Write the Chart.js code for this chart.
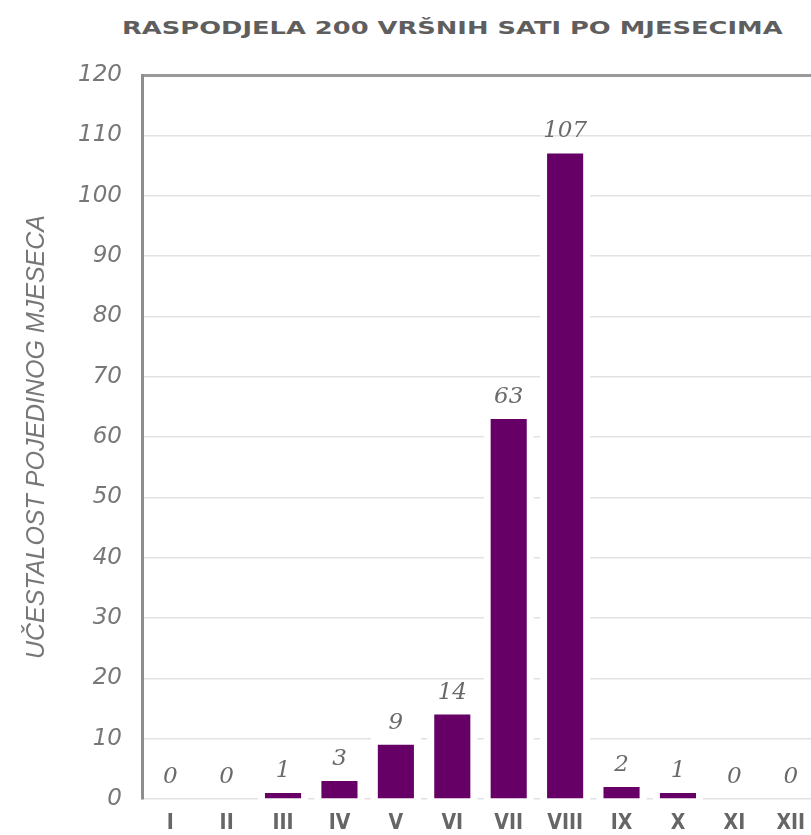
<!DOCTYPE html>
<html>
<head>
<meta charset="utf-8">
<script src="https://cdn.jsdelivr.net/npm/chart.js@4.4.0/dist/chart.umd.min.js"></script>
<style>
    html, body { margin: 0; padding: 0; background: #fff; overflow: hidden; }
    #naslov {
        position: absolute; left: 122px; top: 17px; width: 470px; text-align: left;
        font-family: 'DejaVu Sans', sans-serif; font-weight: bold; font-size: 18px;
        color: #5e5e5e; white-space: nowrap;
        transform-origin: 0 0; transform: scaleX(1.43);
    }
    #wrap { position: absolute; left: 0; top: 0; width: 819px; height: 835px; }
</style>
</head>
<body>
<div id="naslov">RASPODJELA 200 VRŠNIH SATI PO MJESECIMA</div>
<div id="wrap"><canvas id="mjeseciChart"></canvas></div>
<script>
// mjeseci (rimski brojevi) i broj vršnih sati u svakom
const mjeseci = ['I', 'II', 'III', 'IV', 'V', 'VI', 'VII', 'VIII', 'IX', 'X', 'XI', 'XII'];
const ucestalost = [0, 0, 1, 3, 9, 14, 63, 107, 2, 1, 0, 0];
const yMin = 0;
const yMax = 120;
const yKorak = 10;

document.addEventListener('DOMContentLoaded', function() {
    // bijeli "oreol" oko stupaca (prekida linije mreže)
    const oreolPlugin = {
        id: 'oreol',
        beforeDatasetsDraw(chart) {
            const ctx = chart.ctx;
            const meta = chart.getDatasetMeta(0);
            ctx.save();
            ctx.fillStyle = '#ffffff';
            meta.data.forEach((bar, i) => {
                if (ucestalost[i] <= 0) return;
                const p = bar.getProps(['x', 'y', 'base', 'width'], true);
                ctx.fillRect(p.x - p.width / 2 - 7, p.y - 7, p.width + 14, p.base - p.y + 9);
            });
            ctx.restore();
        }
    };

    // vrijednosti iznad stupaca
    const oznakePlugin = {
        id: 'oznake',
        afterDatasetsDraw(chart) {
            const ctx = chart.ctx;
            const meta = chart.getDatasetMeta(0);
            ctx.save();
            ctx.font = 'italic 23px "DejaVu Serif", serif';
            ctx.fillStyle = '#6a6a6a';
            ctx.textAlign = 'center';
            ctx.textBaseline = 'middle';
            meta.data.forEach((bar, i) => {
                const p = bar.getProps(['x', 'y'], true);
                ctx.fillText(String(ucestalost[i]), p.x, p.y - 22);
            });
            ctx.restore();
        }
    };

    const ctx = document.getElementById('mjeseciChart');
    new Chart(ctx.getContext('2d'), {
        type: 'bar',
        data: {
            labels: mjeseci,
            datasets: [{
                label: 'Učestalost',
                data: ucestalost,
                backgroundColor: '#660066',
                borderWidth: 0,
                barPercentage: 0.64,
                categoryPercentage: 1.0
            }]
        },
        options: {
            responsive: true,
            maintainAspectRatio: false,
            animation: false,
            layout: { padding: { top: 75, left: 0, right: 0, bottom: 0 } },
            plugins: {
                legend: { display: false },
                tooltip: { enabled: false }
            },
            scales: {
                x: {
                    grid: { display: false },
                    border: { display: false },
                    ticks: {
                        color: '#666',
                        padding: 4,
                        font: { family: '"DejaVu Sans Condensed", "DejaVu Sans", sans-serif', weight: 'bold', size: 21 }
                    },
                    afterFit(scale) { scale.height = 36; }
                },
                y: {
                    min: yMin,
                    max: yMax,
                    ticks: {
                        stepSize: yKorak,
                        color: '#777',
                        padding: 20,
                        font: { family: '"DejaVu Sans", sans-serif', style: 'italic', size: 23 }
                    },
                    grid: {
                        drawTicks: false,
                        color: c => c.tick && c.tick.value === yMax ? '#9a9a9a' : '#e2e2e2',
                        lineWidth: c => c.tick && c.tick.value === yMax ? 3 : 1.5
                    },
                    border: { display: true, color: '#8e8e8e', width: 3 },
                    title: {
                        display: true,
                        text: 'UČESTALOST POJEDINOG MJESECA',
                        color: '#777',
                        padding: { top: 22, bottom: 0 },
                        font: { family: '"Liberation Sans", sans-serif', style: 'italic', size: 25 }
                    },
                    afterFit(scale) { scale.width = 142; }
                }
            }
        },
        plugins: [oreolPlugin, oznakePlugin]
    });
});
</script>
</body>
</html>
